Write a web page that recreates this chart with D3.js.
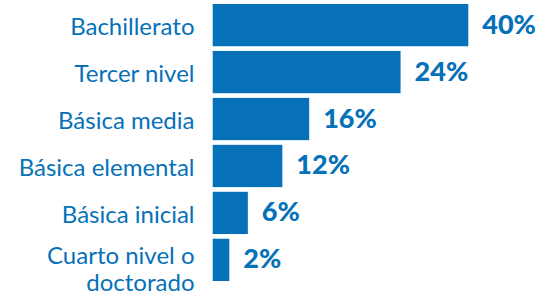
<!DOCTYPE html>
<html>
<head>
<meta charset="utf-8">
<script src="https://cdn.jsdelivr.net/npm/d3@7"></script>
<style>
  body { margin: 0; background: #fff; }
</style>
</head>
<body>
<div id="container"></div>
<script>
// categories, top to bottom
var categories = ["Bachillerato", "Tercer nivel", "Básica media", "Básica elemental", "Básica inicial", "Cuarto nivel o doctorado"];
// bar lengths as drawn (percent)
var values = [40, 29.4, 15.1, 10.9, 5.5, 2.6];
// printed value labels
var valueLabels = ["40%", "24%", "16%", "12%", "6%", "2%"];

var w = 558;
var h = 297;
var blue = "#0671b8";

var svg = d3.select("#container")
	.append("svg")
	.attr("width", w)
	.attr("height", h);

var yScale = d3.scaleBand()
	.domain(categories)
	.range([4, 281])
	.paddingInner(0.1);

var xScale = d3.scaleLinear()
	.domain([0, 40])
	.range([212.7, 468.3]);

//bars
svg.selectAll("rect")
	.data(values)
	.enter()
	.append("rect")
	.attr("x", xScale(0))
	.attr("y", function(d, i) { return yScale(categories[i]); })
	.attr("width", function(d) { return xScale(d) - xScale(0); })
	.attr("height", yScale.bandwidth())
	.attr("fill", blue);

//value labels
svg.selectAll("text.values")
	.data(values)
	.enter()
	.append("text")
	.attr("class", "values")
	.text(function(d, i) { return valueLabels[i]; })
	.attr("x", function(d) { return xScale(d) + 14; })
	.attr("y", function(d, i) { return yScale(categories[i]) + yScale.bandwidth() / 2 + 8.5; })
	.attr("font-family", "Lato, sans-serif")
	.attr("font-weight", "900")
	.attr("font-size", "27px")
	.attr("fill", blue);

//category labels, the long one wraps in two lines
var catLines = {"Cuarto nivel o doctorado": ["Cuarto nivel o", "doctorado"]};

svg.selectAll("g.cats")
	.data(categories)
	.enter()
	.append("g")
	.attr("class", "cats")
	.each(function(d) {
		var g = d3.select(this);
		var mid = yScale(d) + yScale.bandwidth() / 2;
		var lines = catLines[d] || [d];
		var start = lines.length > 1 ? 4.2 : 10;
		lines.forEach(function(line, k) {
			g.append("text")
				.attr("text-anchor", "end")
				.attr("x", 194.5)
				.attr("y", mid + start + k * 27)
				.attr("font-family", "Lato, sans-serif")
				.attr("font-size", "24px")
				.attr("fill", blue)
				.text(line);
		});
	});
</script>
</body>
</html>
